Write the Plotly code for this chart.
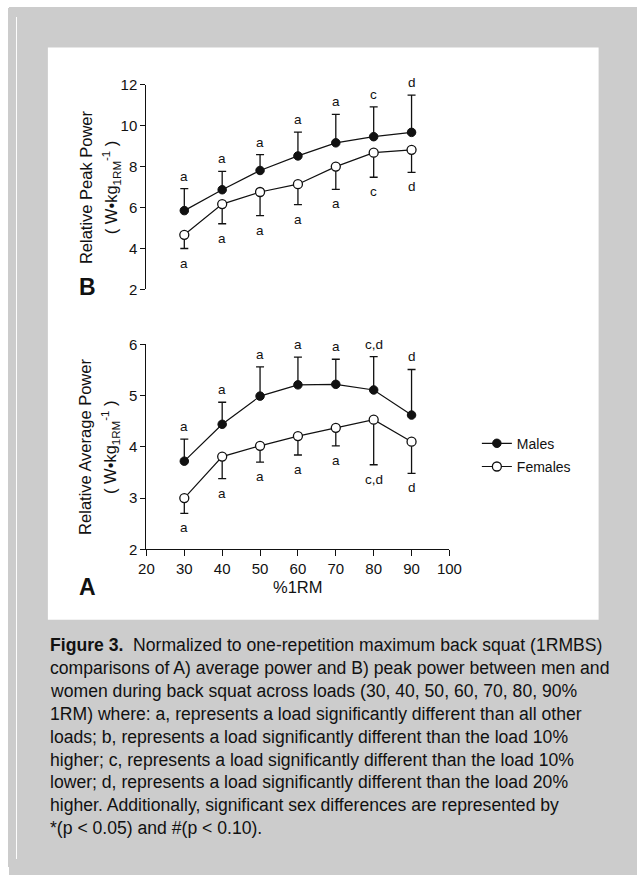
import plotly.graph_objects as go

# page is 637x875; body keeps an 8px margin, so the figure is 621x859 at (8, 8)
PAGE_W, PAGE_H = 637, 875
OFF = 8
W, H = PAGE_W - 2 * OFF, PAGE_H - 2 * OFF

loads = [30, 40, 50, 60, 70, 80, 90]

# Panel B: relative peak power
peak_males = [5.85, 6.87, 7.81, 8.52, 9.16, 9.46, 9.67]
peak_males_sd = [1.07, 0.90, 0.77, 1.16, 1.39, 1.45, 1.82]
peak_females = [4.67, 6.17, 6.76, 7.14, 8.00, 8.68, 8.82]
peak_females_sd = [0.67, 0.96, 1.15, 1.00, 1.11, 1.20, 1.10]
peak_males_sig = ["a", "a", "a", "a", "a", "c", "d"]
peak_females_sig = ["a", "a", "a", "a", "a", "c", "d"]

# Panel A: relative average power
avg_males = [3.72, 4.44, 4.99, 5.21, 5.22, 5.11, 4.62]
avg_males_sd = [0.43, 0.43, 0.57, 0.54, 0.49, 0.65, 0.89]
avg_females = [3.00, 3.81, 4.02, 4.21, 4.37, 4.53, 4.10]
avg_females_sd = [0.30, 0.43, 0.32, 0.37, 0.35, 0.88, 0.62]
avg_males_sig = ["a", "a", "a", "a", "a", "c,d", "d"]
avg_females_sig = ["a", "a", "a", "a", "a", "c,d", "d"]

x_ticks = [20, 30, 40, 50, 60, 70, 80, 90, 100]
peak_ticks = [2, 4, 6, 8, 10, 12]
avg_ticks = [2, 3, 4, 5, 6]

caption_lines = [
    "<b>Figure 3.</b>  Normalized to one-repetition maximum back squat (1RMBS)",
    "comparisons of A) average power and B) peak power between men and",
    "women during back squat across loads (30, 40, 50, 60, 70, 80, 90%",
    "1RM) where: a, represents a load significantly different than all other",
    "loads; b, represents a load significantly different than the load 10%",
    "higher; c, represents a load significantly different than the load 10%",
    "lower; d, represents a load significantly different than the load 20%",
    "higher. Additionally, significant sex differences are represented by",
    "*(p &lt; 0.05) and #(p &lt; 0.10).",
]

FONT = "Liberation Sans, Arial, Helvetica, sans-serif"
INK = "#111111"
GRAY = "#cccccc"


def px_x(p):
    return (p - OFF) / W


def px_y(p):
    return 1 - (p - OFF) / H


fig = go.Figure()


def add_series(xa, ya, males, msd, females, fsd, showlegend):
    fig.add_trace(go.Scatter(
        x=loads, y=males, xaxis=xa, yaxis=ya, mode="lines+markers", name="Males",
        legendgroup="m", showlegend=showlegend,
        line=dict(color=INK, width=1.2),
        marker=dict(symbol="circle", size=8.5, color=INK, line=dict(color=INK, width=1)),
        error_y=dict(type="data", array=msd, arrayminus=[0] * len(msd), symmetric=False,
                     color=INK, thickness=1.3, width=4),
    ))
    fig.add_trace(go.Scatter(
        x=loads, y=females, xaxis=xa, yaxis=ya, mode="lines+markers", name="Females",
        legendgroup="f", showlegend=showlegend,
        line=dict(color=INK, width=1.2),
        marker=dict(symbol="circle", size=9, color="white", line=dict(color=INK, width=1.3)),
        error_y=dict(type="data", array=[0] * len(fsd), arrayminus=fsd, symmetric=False,
                     color=INK, thickness=1.3, width=4),
    ))


add_series("x2", "y2", peak_males, peak_males_sd, peak_females, peak_females_sd, False)
add_series("x", "y", avg_males, avg_males_sd, avg_females, avg_females_sd, True)

annotations = []


def add_letters(xr, yr, vals, sd, labels, up):
    for xv, v, s, lab in zip(loads, vals, sd, labels):
        if up:
            annotations.append(dict(x=xv, y=v + s, xref=xr, yref=yr, text=lab, showarrow=False,
                                    xanchor="center", yanchor="bottom", yshift=3,
                                    font=dict(family=FONT, size=13.5, color=INK)))
        else:
            annotations.append(dict(x=xv, y=v - s, xref=xr, yref=yr, text=lab, showarrow=False,
                                    xanchor="center", yanchor="top", yshift=-5,
                                    font=dict(family=FONT, size=13.5, color=INK)))


add_letters("x2", "y2", peak_males, peak_males_sd, peak_males_sig, True)
add_letters("x2", "y2", peak_females, peak_females_sd, peak_females_sig, False)
add_letters("x", "y", avg_males, avg_males_sd, avg_males_sig, True)
add_letters("x", "y", avg_females, avg_females_sd, avg_females_sig, False)


def paper_text(x, y, text, size, **kw):
    d = dict(x=px_x(x), y=px_y(y), xref="paper", yref="paper", text=text, showarrow=False,
             xanchor="center", yanchor="middle", font=dict(family=FONT, size=size, color=INK))
    d.update(kw)
    annotations.append(d)


# axis titles (two lines each, rotated)
for (cy, line1) in [(182, "Relative Peak Power"), (447, "Relative Average Power")]:
    paper_text(80, cy, line1, 16.5, textangle=-90)
    paper_text(106, cy, "( W•kg<sub>1RM</sub><sup>-1</sup> )", 16.5, textangle=-90)

# panel letters
paper_text(82, 283, "<b>B</b>", 23)
paper_text(82, 589, "<b>A</b>", 23)

# x-axis title
paper_text(300, 590, "%1RM", 16.5)

# caption
for i, line in enumerate(caption_lines):
    paper_text(41, 649 + 23.3 * i, line, 17.6, xanchor="left")

shapes = [
    dict(type="rect", xref="paper", yref="paper", x0=px_x(OFF), x1=px_x(9), y0=0, y1=1,
         fillcolor="white", line=dict(width=0), layer="below"),
    dict(type="rect", xref="paper", yref="paper", x0=px_x(41), x1=px_x(611), y0=px_y(623), y1=px_y(39),
         fillcolor="white", line=dict(width=0), layer="below"),
]

xdom = [px_x(143), px_x(456.6)]
axis_common = dict(showgrid=False, zeroline=False, ticks="outside", tickwidth=1.3,
                   tickcolor=INK, linecolor=INK, linewidth=1.3, showline=True,
                   tickfont=dict(family=FONT, size=15, color=INK))

fig.update_layout(
    width=W, height=H,
    margin=dict(l=0, r=0, t=0, b=0),
    paper_bgcolor=GRAY, plot_bgcolor="rgba(0,0,0,0)",
    font=dict(family=FONT, color=INK),
    xaxis=dict(domain=xdom, range=[20, 100], tickvals=x_ticks, anchor="y", ticklen=6, **axis_common),
    yaxis=dict(domain=[px_y(551), px_y(342)], range=[2, 6], tickvals=avg_ticks, anchor="x",
               ticklen=5, **axis_common),
    xaxis2=dict(domain=xdom, range=[20, 100], anchor="y2", visible=False),
    yaxis2=dict(domain=[px_y(286), px_y(77)], range=[2, 12], tickvals=peak_ticks, anchor="x2",
                ticklen=5, **axis_common),
    shapes=shapes,
    annotations=annotations,
    showlegend=True,
    legend=dict(x=px_x(485), y=px_y(427), xanchor="left", yanchor="top",
                bgcolor="rgba(0,0,0,0)", font=dict(family=FONT, size=14, color=INK),
                tracegroupgap=2, itemwidth=30),
)

fig.write_html(
    "out.html",
    config={"displayModeBar": False},
    post_script=(
        "document.documentElement.style.background="
        "'linear-gradient(to bottom, white 7px, transparent 7px) no-repeat, "
        "linear-gradient(to right, white 9px, #cccccc 9px) no-repeat #cccccc';"
    ),
)
